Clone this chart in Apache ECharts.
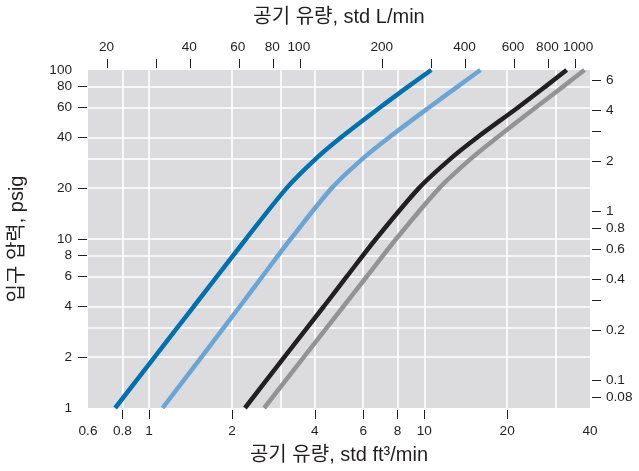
<!DOCTYPE html>
<html><head><meta charset="utf-8">
<script src="https://cdn.jsdelivr.net/npm/echarts@6/dist/echarts.min.js"></script>
<style>html,body{margin:0;padding:0;background:#fff}#c{width:639px;height:471px}</style>
</head><body><div id="c"></div>
<script>
// Inlet pressure levels (psig) and air flow (std ft3/min) for each curve
const psig = [1, 2, 4, 6, 10, 20, 30, 40, 60, 80, 100];
const cfmDarkBlue  = [0.753, 1.047, 1.455, 1.765, 2.25, 3.16, 4.05, 4.99, 6.90, 8.76, 10.6];
const cfmLightBlue = [1.12, 1.55, 2.14, 2.58, 3.27, 4.61, 5.99, 7.46, 10.4, 13.25, 16.0];
const cfmBlack     = [2.23, 3.10, 4.32, 5.23, 6.67, 9.56, 12.5, 15.6, 21.9, 27.6, 32.9];
const cfmGray      = [2.62, 3.65, 5.09, 6.18, 7.90, 11.34, 14.82, 18.44, 25.4, 32.0, 38.2];

// Tick labels / ticks / grid lines
const cfmTicks  = [0.8, 1, 2, 4, 6, 8, 10, 20];
const cfmLabels = [0.6, 0.8, 1, 2, 4, 6, 8, 10, 20, 40];
const cfmGrid   = [0.8, 1, 2, 3, 4, 6, 8, 10, 20, 30];
const lpmTicks  = [20, 30, 40, 60, 80, 100, 200, 300, 400, 600, 800, 1000];
const lpmLabels = [20, 40, 60, 80, 100, 200, 400, 600, 800];
const lpmLabelsEnd = [1000];
const psigTicks  = [2, 4, 6, 8, 10, 20, 40, 60, 80];
const psigLabels = [1, 2, 4, 6, 8, 10, 20, 40, 60, 80, 100];
const psigGrid   = [2, 3, 4, 6, 8, 10, 20, 30, 40, 60, 80];
const barTicks  = [0.08, 0.1, 0.2, 0.3, 0.4, 0.6, 0.8, 1, 2, 3, 4, 6];
const barLabels = [0.08, 0.1, 0.2, 0.4, 0.6, 0.8, 1, 2, 4, 6];

const CFM_MIN = 0.6, CFM_MAX = 40, PSIG_MIN = 1, PSIG_MAX = 100;
const LPM_PER_CFM = 28.3168, BAR_PER_PSI = 0.0689476;

const TXT = '#231f20';
const FONT = '"Liberation Sans", Arial, "Noto Sans CJK KR", sans-serif';
const fmt = v => String(Math.round(v * 1000) / 1000);

const chart = echarts.init(document.getElementById('c'), null, {renderer: 'canvas'});

function pairs(xs) { return psig.map((p, i) => [xs[i], p]); }

const labelBase = {color: TXT, fontSize: 13.6, fontFamily: FONT, formatter: fmt, hideOverlap: false};
const tickBase = {show: true, length: 9, lineStyle: {color: TXT, width: 1}};
const nameBase = {color: TXT, fontSize: 20, fontFamily: FONT};

const curve = (name, xs, color) => ({
  name, type: 'line', xAxisIndex: 0, yAxisIndex: 0,
  data: pairs(xs), smooth: 0.3, showSymbol: false, clip: true,
  lineStyle: {color, width: 4.5, cap: 'butt'}, z: 5, silent: true, animation: false
});

chart.setOption({
  animation: false,
  grid: {left: 88, right: 49, top: 70, bottom: 63, show: true, backgroundColor: '#dcdcde', borderWidth: 0,
         containLabel: false, outerBoundsMode: 'none'},
  xAxis: [
    {type: 'log', logBase: 10, min: CFM_MIN, max: CFM_MAX, position: 'bottom', offset: 2,
     axisLine: {show: false}, axisTick: Object.assign({customValues: cfmTicks}, tickBase),
     axisLabel: Object.assign({customValues: cfmLabels, margin: 14}, labelBase),
     splitLine: {show: false},
     name: '공기 유량, std ft³/min', nameLocation: 'middle', nameGap: 35, nameTextStyle: nameBase},
    {type: 'log', logBase: 10, min: CFM_MIN * LPM_PER_CFM, max: CFM_MAX * LPM_PER_CFM, position: 'top', offset: 2,
     axisLine: {show: false}, axisTick: Object.assign({customValues: lpmTicks}, tickBase),
     axisLabel: Object.assign({customValues: lpmLabels, margin: 14, padding: [0, 2, 0, 0]}, labelBase),
     splitLine: {show: false},
     name: '공기 유량, std L/min', nameLocation: 'middle', nameGap: 41, nameTextStyle: nameBase},
    {type: 'log', logBase: 10, min: CFM_MIN * LPM_PER_CFM, max: CFM_MAX * LPM_PER_CFM, position: 'top', offset: 2,
     axisLine: {show: false}, axisTick: {show: false},
     axisLabel: Object.assign({customValues: lpmLabelsEnd, margin: 14, padding: [0, 0, 0, 6]}, labelBase),
     splitLine: {show: false}}
  ],
  yAxis: [
    {type: 'log', logBase: 10, min: PSIG_MIN, max: PSIG_MAX, position: 'left', offset: 1,
     axisLine: {show: false}, axisTick: Object.assign({customValues: psigTicks}, tickBase),
     axisLabel: Object.assign({customValues: psigLabels, margin: 15}, labelBase),
     splitLine: {show: false},
     name: '입구 압력, psig', nameLocation: 'middle', nameGap: 60, nameRotate: 90, nameTextStyle: nameBase},
    {type: 'log', logBase: 10, min: PSIG_MIN * BAR_PER_PSI, max: PSIG_MAX * BAR_PER_PSI, position: 'right', offset: 2,
     axisLine: {show: false}, axisTick: Object.assign({customValues: barTicks}, tickBase),
     axisLabel: Object.assign({customValues: barLabels, margin: 14}, labelBase),
     splitLine: {show: false}}
  ],
  series: [
    {type: 'line', xAxisIndex: 0, yAxisIndex: 0, data: [[1, 1]], showSymbol: false,
     lineStyle: {opacity: 0}, z: 1, silent: true,
     markLine: {silent: true, symbol: 'none', label: {show: false}, animation: false,
       lineStyle: {color: '#ffffff', width: 1.6, type: 'solid'},
       emphasis: {disabled: true},
       data: cfmGrid.map(v => ({xAxis: v})).concat(psigGrid.map(v => ({yAxis: v})))}},
    curve('gray', cfmGray, '#939393'),
    curve('black', cfmBlack, '#231f20'),
    curve('lightblue', cfmLightBlue, '#6aa5d6'),
    curve('darkblue', cfmDarkBlue, '#0070ae')
  ]
});
</script></body></html>
